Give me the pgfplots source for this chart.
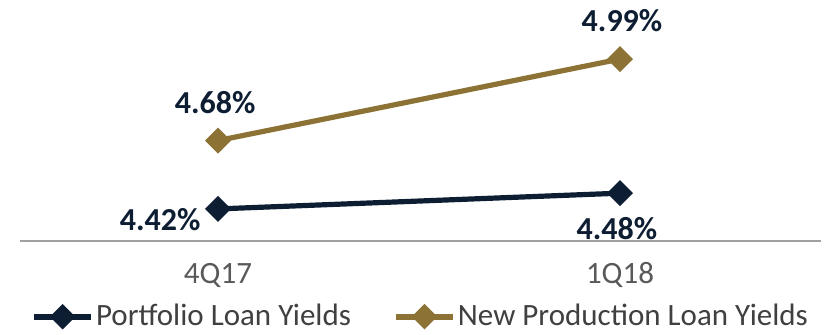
\documentclass[border=0pt]{standalone}
\usepackage{pgfplots}
\pgfplotsset{compat=1.18}
\usepackage{fontspec}
\setmainfont{Carlito}
\definecolor{navy}{HTML}{0D1E33}
\definecolor{gold}{HTML}{8C7335}
\definecolor{tickgray}{HTML}{595959}
\definecolor{leggray}{HTML}{404040}
\definecolor{axgray}{HTML}{A0A0A0}
\begin{document}
\begin{tikzpicture}
\begin{axis}[
  scale only axis,
  width=400.5pt, height=112pt,
  xmin=-0.4925, xmax=1.5,
  ymin=4.298, ymax=5.15,
  axis x line=bottom,
  axis line style={axgray, line width=1pt, -},
  hide y axis,
  xtick={0,1}, xticklabels={4Q17,1Q18},
  major tick length=0pt,
  xticklabel style={font=\fontsize{15.5}{17}\selectfont, text=tickgray, anchor=base, yshift=-21pt},
  legend style={at={(0.5,-0.338)}, anchor=center, draw=none, legend columns=2,
    font=\fontsize{15.5}{17}\selectfont, text=leggray, inner sep=0pt,
    nodes={inner sep=1pt},
    /tikz/every even column/.append style={column sep=20pt}},
  legend image code/.code={
    \draw[#1, line width=3pt] (0cm,0cm) -- (1.0cm,0cm);
    \draw[#1, mark=square*, mark size=3.2pt, mark options={solid, rotate=45}] plot coordinates {(0.5cm,0cm)};
  },
  clip=false,
]
\addplot[navy, line width=2.6pt, mark=square*, mark size=3.3pt, mark options={rotate=45}] coordinates {(0,4.42) (1,4.48)};
\addlegendentry{Portfolio Loan Yields}
\addplot[gold, line width=2.6pt, mark=square*, mark size=3.3pt, mark options={rotate=45}] coordinates {(0,4.68) (1,4.99)};
\addlegendentry{New Production Loan Yields}
\node[font=\bfseries\fontsize{16}{18}\selectfont, text=navy] at (axis cs:-0.144,4.378) {4.42\%};
\node[font=\bfseries\fontsize{16}{18}\selectfont, text=navy] at (axis cs:0.9925,4.344) {4.48\%};
\node[font=\bfseries\fontsize{16}{18}\selectfont, text=navy] at (axis cs:-0.007,4.823) {4.68\%};
\node[font=\bfseries\fontsize{16}{18}\selectfont, text=navy] at (axis cs:1.005,5.135) {4.99\%};
\end{axis}
\pgfresetboundingbox
\path ([shift={(-10pt,-46.5pt)}]current axis.south west) rectangle ([shift={(4.5pt,8.5pt)}]current axis.north east);
\end{tikzpicture}
\end{document}
